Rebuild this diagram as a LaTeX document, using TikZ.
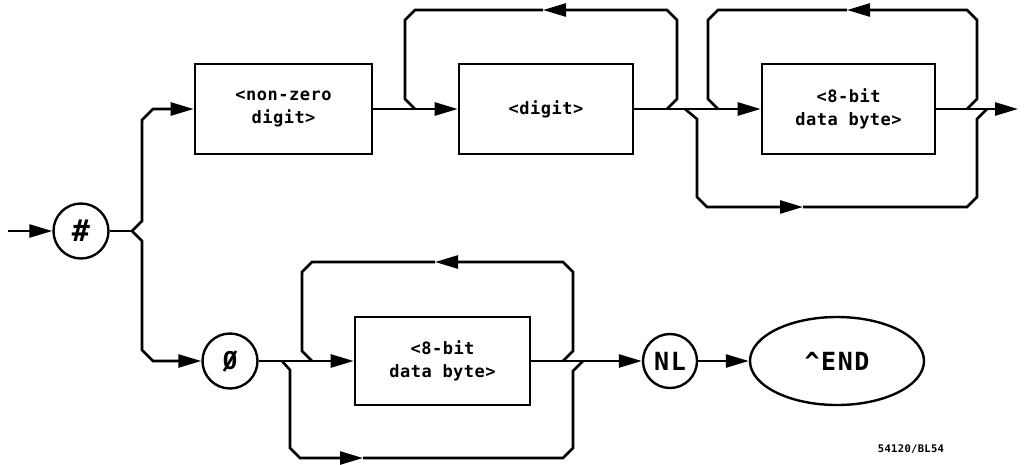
\documentclass[tikz,border=0pt]{standalone}
\usepackage{fontspec}
\usetikzlibrary{arrows.meta,shapes.geometric}
\newfontfamily\pf[LetterSpace=3]{DejaVu Sans Mono}
\newfontfamily\pfbig[LetterSpace=6]{DejaVu Sans Mono}
\newfontfamily\zerofont{Liberation Sans}
\tikzset{
  conn/.style={line width=2.6pt, line join=miter},
  arr/.style={conn, -{Triangle[length=23pt,width=13pt]}},
  boxnode/.style={draw, line width=2.6pt, minimum width=#1, minimum height=90pt, inner sep=0pt, align=center, font=\pf\bfseries\fontsize{17}{23}\selectfont},
  circnode/.style={draw, circle, line width=2.4pt, minimum size=55pt, inner sep=0pt, font=\pfbig\bfseries\fontsize{25}{25}\selectfont},
}
\begin{document}
\begin{tikzpicture}[x=1pt,y=-1pt]
\useasboundingbox (0,0) rectangle (1030,464);
% nodes
\coordinate (start) at (8,231);
\node[circnode, font=\pfbig\bfseries\fontsize{30}{30}\selectfont] (hash) at (81,231) {\#};
\coordinate (split) at (132,231);
\node[boxnode=177pt] (nonzero) at (283.5,109) {<non-zero\\digit>};
\node[boxnode=174pt] (digit) at (546,109) {<digit>};
\node[boxnode=173pt] (bytea) at (848.5,109) {<8-bit\\data byte>};
\coordinate (exit) at (1018,109);
\node[circnode, font=\zerofont\bfseries\fontsize{26}{26}\selectfont] (zero) at (230,361) {0};
\draw[line width=2.6pt] ([shift={(-6,10)}]zero.center) -- ([shift={(6,-10)}]zero.center);
\node[boxnode=175pt, minimum height=88pt] (byteb) at (442.5,361) {<8-bit\\data byte>};
\node[circnode, minimum size=54pt] (nl) at (670,361) {NL};
\node[draw, ellipse, line width=2.4pt, minimum width=174pt, minimum height=88pt, inner sep=0pt, font=\pfbig\bfseries\fontsize{25}{25}\selectfont] (end) at (837,361) {\textasciicircum END};
\node[font=\pf\bfseries\fontsize{10.5}{10.5}\selectfont, inner sep=0pt] (tag) at (911,449) {54120/BL54};

% entry
\draw[arr] (start) -- (hash);
\draw[conn] (hash) -- (split);
% upper branch
\draw[arr] (split) -- (142,221) -- (142,120) -- (153,109) -- (nonzero.west);
\draw[arr] (nonzero.east) -- (digit.west);
% digit repeat loop
\draw[arr] (667,109) -- (677,99) -- (677,20) -- (667,10) -- (543,10);
\draw[conn] (543,10) -- (415,10) -- (405,20) -- (405,99) -- (415,109);
% digit to 8-bit
\draw[conn] (digit.east) -- (718,109);
\draw[arr] (718,109) -- (bytea.west);
% 8-bit repeat loop
\draw[arr] (967,109) -- (977,99) -- (977,20) -- (967,10) -- (847,10);
\draw[conn] (847,10) -- (718,10) -- (708,20) -- (708,99) -- (718,109);
% 8-bit bypass
\draw[arr] (685,109) -- (697,119) -- (697,197) -- (707,207) -- (803,207);
\draw[conn] (803,207) -- (967,207) -- (977,197) -- (977,119) -- (987,109);
\draw[arr] (bytea.east) -- (exit);

% lower branch
\draw[arr] (split) -- (142,241) -- (142,350) -- (153,361) -- (zero.west);
\draw[conn] (zero.east) -- (312,361);
\draw[arr] (312,361) -- (byteb.west);
% lower repeat loop
\draw[arr] (563,361) -- (573,351) -- (573,272) -- (563,262) -- (435,262);
\draw[conn] (435,262) -- (312,262) -- (302,272) -- (302,351) -- (312,361);
% lower bypass
\draw[arr] (282,361) -- (290,370) -- (290,448) -- (300,458) -- (363,458);
\draw[conn] (363,458) -- (563,458) -- (573,448) -- (573,371) -- (583,361);
\draw[conn] (byteb.east) -- (583,361);
\draw[arr] (583,361) -- (nl.west);
\draw[arr] (nl.east) -- (end.west);
\end{tikzpicture}
\end{document}
